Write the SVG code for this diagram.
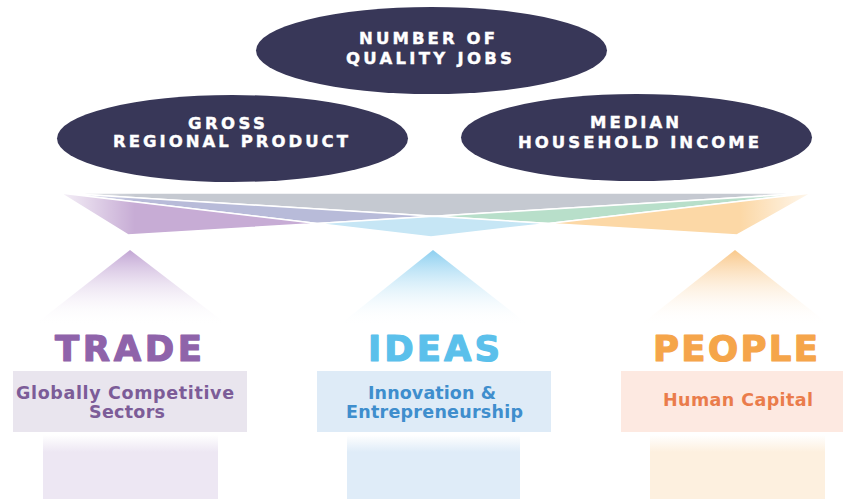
<svg xmlns="http://www.w3.org/2000/svg" width="843" height="499" viewBox="0 0 843 499">
<style>
.ell{fill:#383758}
.et{font-family:"DejaVu Sans",sans-serif;font-weight:bold;font-size:16.5px;fill:#ffffff;stroke:#ffffff;stroke-width:0.4;text-anchor:middle}
.fan{stroke:#ffffff;stroke-width:1.5;stroke-linejoin:round}
.head{font-family:"DejaVu Sans",sans-serif;font-weight:bold;font-size:35.5px;stroke-width:1.2;stroke-linejoin:round;text-anchor:middle}
.sub{font-family:"DejaVu Sans",sans-serif;font-weight:bold;font-size:17.5px;text-anchor:middle}
</style>
<defs>
<linearGradient id="gTradeHead" x1="0" y1="250" x2="0" y2="326" gradientUnits="userSpaceOnUse"><stop offset="0" stop-color="#c2a5d4"/><stop offset="1" stop-color="#ffffff" stop-opacity="0"/></linearGradient>
<linearGradient id="gIdeasHead" x1="0" y1="250" x2="0" y2="326" gradientUnits="userSpaceOnUse"><stop offset="0" stop-color="#8ccff0"/><stop offset="1" stop-color="#ffffff" stop-opacity="0"/></linearGradient>
<linearGradient id="gPeopleHead" x1="0" y1="250" x2="0" y2="326" gradientUnits="userSpaceOnUse"><stop offset="0" stop-color="#f9c88a"/><stop offset="1" stop-color="#ffffff" stop-opacity="0"/></linearGradient>
<linearGradient id="gTradeShaft" x1="0" y1="435" x2="0" y2="452" gradientUnits="userSpaceOnUse"><stop offset="0" stop-color="#ffffff"/><stop offset="1" stop-color="#ede7f3"/></linearGradient>
<linearGradient id="gIdeasShaft" x1="0" y1="435" x2="0" y2="452" gradientUnits="userSpaceOnUse"><stop offset="0" stop-color="#ffffff"/><stop offset="1" stop-color="#dfecf8"/></linearGradient>
<linearGradient id="gPeopleShaft" x1="0" y1="435" x2="0" y2="452" gradientUnits="userSpaceOnUse"><stop offset="0" stop-color="#ffffff"/><stop offset="1" stop-color="#fdf0df"/></linearGradient>
<linearGradient id="gFadeL" x1="58" y1="0" x2="135" y2="0" gradientUnits="userSpaceOnUse"><stop offset="0" stop-color="#ffffff" stop-opacity="0.85"/><stop offset="1" stop-color="#ffffff" stop-opacity="0"/></linearGradient>
<linearGradient id="gFadeR" x1="815" y1="0" x2="740" y2="0" gradientUnits="userSpaceOnUse"><stop offset="0" stop-color="#ffffff" stop-opacity="0.85"/><stop offset="1" stop-color="#ffffff" stop-opacity="0"/></linearGradient>
</defs>
<rect width="843" height="499" fill="#ffffff"/>

<g id="connectors">
<polygon class="fan" fill="#c5c9d1" points="60,193 812,193 434,216.3"/>
<polygon class="fan" fill="#b8bbd9" points="60,193 434,216.3 317,223.5"/>
<polygon class="fan" fill="#c7acd5" points="60,193 317,223.5 128,235"/>
<polygon class="fan" fill="#b8dfca" points="812,193 548.7,223.4 434,216.3"/>
<polygon class="fan" fill="#fcd8a6" points="812,193 737,235 548.7,223.4"/>
<polygon class="fan" fill="#c6e6f5" points="317,223.5 434,216.3 548.7,223.4 431,237"/>
<rect x="56" y="190" width="80" height="50" fill="url(#gFadeL)"/>
<rect x="738" y="190" width="78" height="50" fill="url(#gFadeR)"/>
</g>

<g id="node-quality-jobs">
<ellipse class="ell" cx="431.5" cy="50.5" rx="175.5" ry="43.5"/>
<text class="et" x="427" y="44" textLength="136" lengthAdjust="spacing">NUMBER OF</text>
<text class="et" x="429" y="63.5" textLength="166" lengthAdjust="spacing">QUALITY JOBS</text>
</g>

<g id="node-gross-regional-product">
<ellipse class="ell" cx="232.5" cy="138.5" rx="175.5" ry="43.5"/>
<text class="et" x="226.5" y="128.5" textLength="77" lengthAdjust="spacing">GROSS</text>
<text class="et" x="230.5" y="147" textLength="235" lengthAdjust="spacing">REGIONAL PRODUCT</text>
</g>

<g id="node-median-household-income">
<ellipse class="ell" cx="636.5" cy="137.5" rx="175.5" ry="43.5"/>
<text class="et" x="634.5" y="128" textLength="89" lengthAdjust="spacing">MEDIAN</text>
<text class="et" x="638.5" y="148" textLength="241" lengthAdjust="spacing">HOUSEHOLD INCOME</text>
</g>

<g id="node-trade">
<polygon points="130,250 33,326 229,326" fill="url(#gTradeHead)"/>
<text class="head" x="128.5" y="361" fill="#8f63aa" stroke="#8f63aa" textLength="147" lengthAdjust="spacing">TRADE</text>
<rect x="13" y="371" width="234" height="61" fill="#e9e5ee"/>
<text class="sub" x="125" y="398.5" fill="#7c5c98" textLength="218" lengthAdjust="spacing">Globally Competitive</text>
<text class="sub" x="127" y="417.5" fill="#7c5c98" textLength="76" lengthAdjust="spacing">Sectors</text>
<rect x="43" y="435" width="175" height="64" fill="url(#gTradeShaft)"/>
</g>

<g id="node-ideas">
<polygon points="433,250 338,326 530,326" fill="url(#gIdeasHead)"/>
<text class="head" x="434" y="361" fill="#5bc0eb" stroke="#5bc0eb" textLength="132" lengthAdjust="spacing">IDEAS</text>
<rect x="317" y="371" width="234" height="61" fill="#deebf7"/>
<text class="sub" x="432" y="398.5" fill="#3f8ecd" textLength="128" lengthAdjust="spacing">Innovation &amp;</text>
<text class="sub" x="434.5" y="417.5" fill="#3f8ecd" textLength="177" lengthAdjust="spacing">Entrepreneurship</text>
<rect x="347" y="435" width="173" height="64" fill="url(#gIdeasShaft)"/>
</g>

<g id="node-people">
<polygon points="735,250 639,326 831,326" fill="url(#gPeopleHead)"/>
<text class="head" x="735.5" y="361" fill="#f5a54a" stroke="#f5a54a" textLength="165" lengthAdjust="spacing">PEOPLE</text>
<rect x="621" y="371" width="222" height="61" fill="#fde9e1"/>
<text class="sub" x="738" y="405.5" fill="#ea7c4b" textLength="150" lengthAdjust="spacing">Human Capital</text>
<rect x="650" y="435" width="175" height="64" fill="url(#gPeopleShaft)"/>
</g>
</svg>
